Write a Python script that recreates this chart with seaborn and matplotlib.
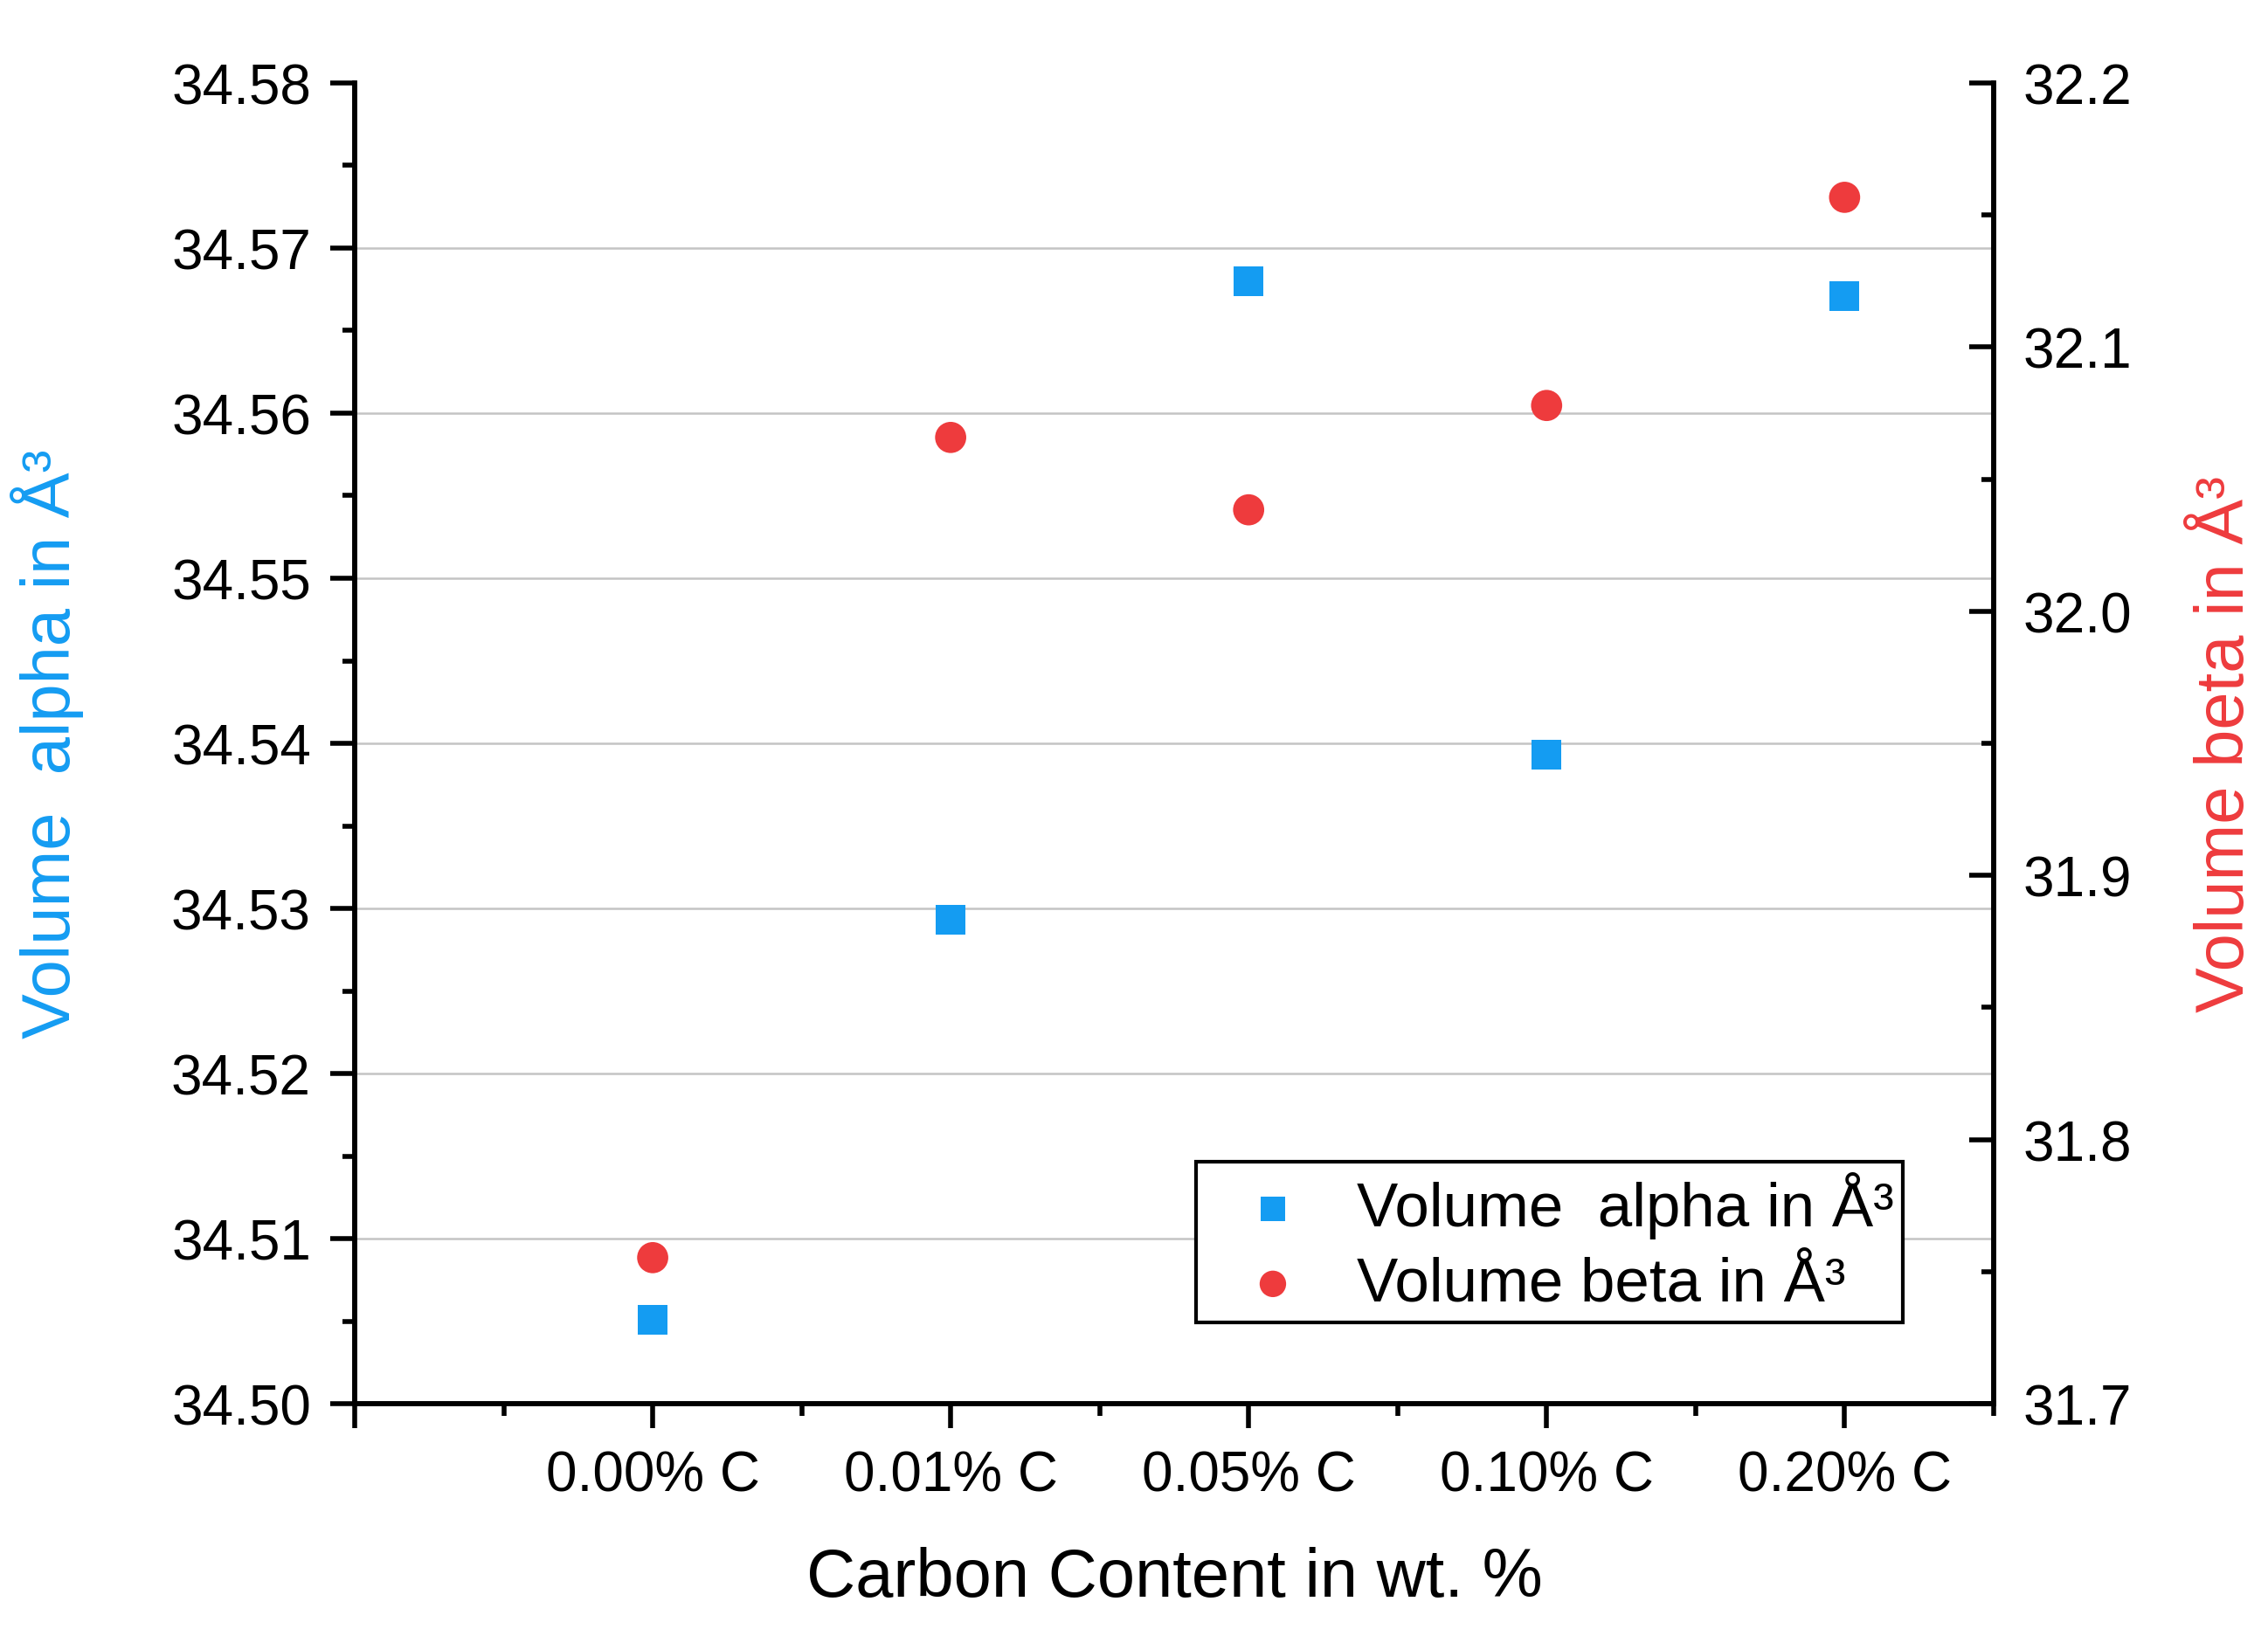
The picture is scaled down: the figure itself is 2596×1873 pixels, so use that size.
import numpy as np
import matplotlib
matplotlib.use("Agg")
import matplotlib.pyplot as plt
from matplotlib.ticker import MultipleLocator, FixedLocator, FormatStrFormatter
import seaborn as sns

# ── Data ──────────────────────────────────────────────────────────────────────
categories = ["0.00% C", "0.01% C", "0.05% C", "0.10% C", "0.20% C"]
vol_alpha = [34.5051, 34.5293, 34.5680, 34.5393, 34.5671]
vol_beta = [31.7553, 32.0658, 32.0384, 32.0779, 32.1567]

BLUE = "#149CF2"
RED = "#EE3B3D"

sns.set_style("white")
plt.rcParams["font.family"] = ["Liberation Sans", "DejaVu Sans"]
plt.rcParams.update({"text.color": "black", "axes.labelcolor": "black",
                     "xtick.color": "black", "ytick.color": "black"})

fig = plt.figure(figsize=(12.98, 9.37), dpi=200)
ax = fig.add_axes([0.1564, 0.1419, 0.7226, 0.8069])
ax2 = ax.twinx()

xpos = np.arange(len(categories))

sns.scatterplot(x=xpos, y=vol_alpha, ax=ax, marker="s", s=150, color=BLUE,
                edgecolor="none", label="Volume  alpha in Å³", legend=False, zorder=3)
sns.scatterplot(x=xpos, y=vol_beta, ax=ax2, marker="o", s=165, color=RED,
                edgecolor="none", label="Volume beta in Å³", legend=False, zorder=3)

# ── Axes ranges and ticks ─────────────────────────────────────────────────────
ax.set_xlim(-1, len(categories) - 0.5)
ax.xaxis.set_major_locator(FixedLocator(np.arange(-1, len(categories))))
ax.set_xticklabels([""] + categories)
ax.xaxis.set_minor_locator(FixedLocator(np.arange(-0.5, len(categories), 1.0)))

ax.set_ylim(34.50, 34.58)
ax.yaxis.set_major_locator(MultipleLocator(0.01))
ax.yaxis.set_minor_locator(MultipleLocator(0.005))
ax.yaxis.set_major_formatter(FormatStrFormatter("%.2f"))

ax2.set_ylim(31.7, 32.2)
ax2.yaxis.set_major_locator(MultipleLocator(0.1))
ax2.yaxis.set_minor_locator(MultipleLocator(0.05))
ax2.yaxis.set_major_formatter(FormatStrFormatter("%.1f"))

for a in (ax, ax2):
    for side in a.spines.values():
        side.set_linewidth(2.0)
        side.set_color("black")
    a.spines["top"].set_visible(False)

ax.tick_params(axis="both", which="major", direction="out", length=10, width=2,
               labelsize=23, left=True, bottom=True)
ax.tick_params(axis="both", which="minor", direction="out", length=5, width=2,
               left=True, bottom=True)
ax.tick_params(axis="y", pad=8)
ax.tick_params(axis="x", pad=9)
ax2.tick_params(axis="y", which="major", direction="in", length=10, width=2,
                labelsize=23, pad=12, right=True)
ax2.tick_params(axis="y", which="minor", direction="in", length=5, width=2,
                right=True)

# horizontal grid on interior major ticks only (none at the axis ends)
ax.grid(False)
ax2.grid(False)
ymin, ymax = ax.get_ylim()
inner = [t for t in ax.get_yticks() if ymin + 1e-9 < t < ymax - 1e-9]
ax.hlines(inner, *ax.get_xlim(), colors="#C4C4C4", linewidth=0.9, zorder=1)

# ── Labels ────────────────────────────────────────────────────────────────────
ax.set_xlabel("Carbon Content in wt. %", fontsize=28, labelpad=18)
ax.set_ylabel("Volume  alpha in Å³", fontsize=28, color=BLUE, labelpad=36)
ax2.set_ylabel("Volume beta in Å³", fontsize=28, color=RED, labelpad=52,
               rotation=90, va="bottom")

# ── Legend ────────────────────────────────────────────────────────────────────
h1, l1 = ax.get_legend_handles_labels()
h2, l2 = ax2.get_legend_handles_labels()
leg = ax2.legend(h1 + h2, l1 + l2, loc="lower right",
                 bbox_to_anchor=(0.9446, 0.0615), fontsize=25.5, frameon=True,
                 fancybox=False, edgecolor="black", framealpha=1,
                 markerscale=0.85, handlelength=2.18, handletextpad=0.26,
                 borderpad=0.15, labelspacing=0.28, borderaxespad=0)
leg.get_frame().set_linewidth(1.5)

fig.savefig("out.png", dpi=200)
